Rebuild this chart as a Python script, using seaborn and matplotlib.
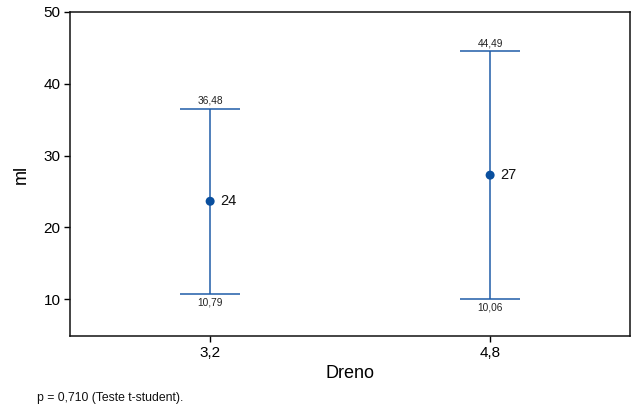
import matplotlib
matplotlib.use("Agg")
import matplotlib.pyplot as plt
import seaborn as sns
import pandas as pd

# Drain volume (ml) by drain size: means with 95% confidence limits
categories = ["3,2", "4,8"]
lower = [10.79, 10.06]
upper = [36.48, 44.49]
means = [(lo + up) / 2 for lo, up in zip(lower, upper)]
mean_labels = ["24", "27"]
yticks = [10, 20, 30, 40, 50]
footnote = "p = 0,710 (Teste t-student)."

sns.set_style("ticks")
plt.rcParams["font.family"] = ["Liberation Sans", "DejaVu Sans"]
plt.rcParams["text.color"] = "black"
plt.rcParams["axes.labelcolor"] = "black"
plt.rcParams["xtick.color"] = "black"
plt.rcParams["ytick.color"] = "black"

blue = "#1f5ca8"
df = pd.DataFrame({"Dreno": categories, "ml": means,
                   "lo": lower, "hi": upper})
df["pos"] = range(len(df))

fig = plt.figure(figsize=(6.32, 4.11), dpi=100)
ax = fig.add_axes([0.111, 0.182, 0.886, 0.789])

# confidence interval whiskers and caps
cap = 0.107
ax.vlines(df["pos"], df["lo"], df["hi"], color=blue, lw=1.1, zorder=2)
ax.hlines(df["lo"], df["pos"] - cap, df["pos"] + cap, color=blue, lw=1.1, zorder=2)
ax.hlines(df["hi"], df["pos"] - cap, df["pos"] + cap, color=blue, lw=1.1, zorder=2)

sns.scatterplot(data=df, x="pos", y="ml", color="#0a4f9e", s=42,
                edgecolor="none", ax=ax, zorder=3, legend=False)

for p, m, lo, hi, lab in zip(df["pos"], df["ml"], df["lo"], df["hi"], mean_labels):
    ax.annotate(lab, (p, m), xytext=(7, 0), textcoords="offset points",
                ha="left", va="center", fontsize=10.5, color="#111111")
    ax.annotate(f"{hi:.2f}".replace(".", ","), (p, hi), xytext=(0, 2.5),
                textcoords="offset points", ha="center", va="bottom",
                fontsize=7.3, color="#222222")
    ax.annotate(f"{lo:.2f}".replace(".", ","), (p, lo), xytext=(0, -3),
                textcoords="offset points", ha="center", va="top",
                fontsize=7.3, color="#222222")

ax.set_xlim(-0.5, 1.5)
ax.set_ylim(4.85, 50)
ax.set_xticks(df["pos"])
ax.set_xticklabels(categories)
ax.set_yticks(yticks)
ax.tick_params(axis="both", labelsize=11, length=4, width=1, color="black",
               pad=3)
ax.set_xlabel("Dreno", fontsize=13, labelpad=4)
ax.set_ylabel("ml", fontsize=13, labelpad=10)
for s in ax.spines.values():
    s.set_visible(True)
    s.set_color("#111111")
    s.set_linewidth(1.1)

fig.text(0.059, 0.032, footnote, fontsize=8.8, ha="left", va="center",
         color="#111111")

fig.savefig("out.png", dpi=100)
